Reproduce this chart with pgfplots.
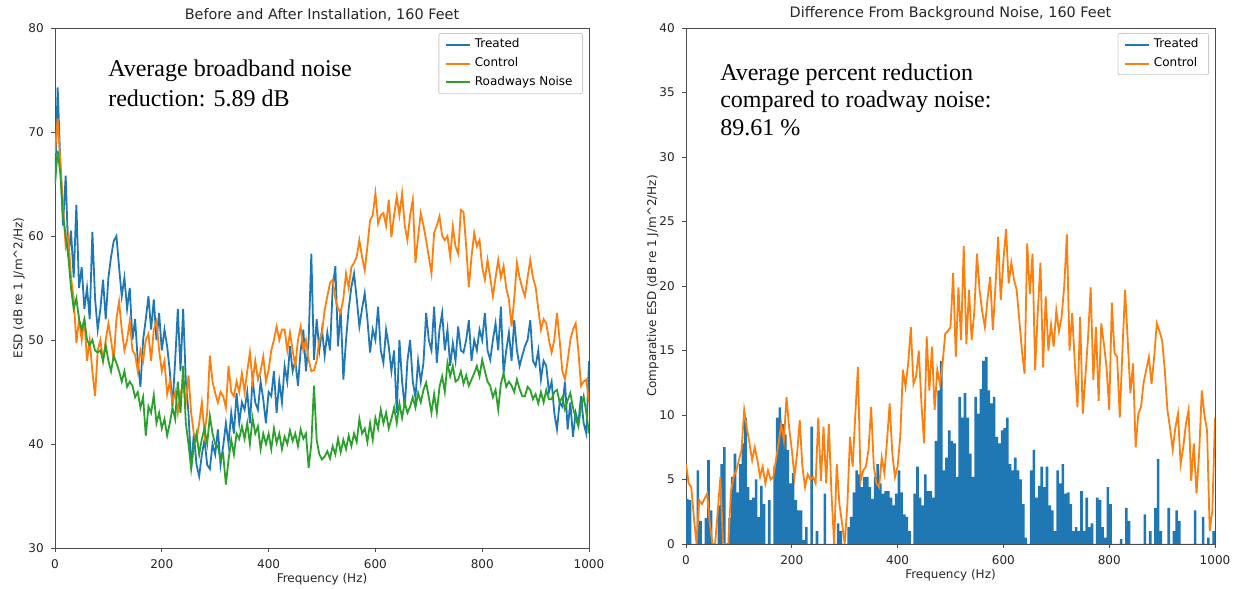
\documentclass[border=0pt]{standalone}
\usepackage{fontspec}
\setmainfont{DejaVu Sans}
\newfontfamily\timesfont{Liberation Serif}
\usepackage{pgfplots}
\pgfplotsset{compat=1.18}
\usepackage{pgfplotstable}

\definecolor{tblue}{HTML}{1F77B4}
\definecolor{torange}{HTML}{FF7F0E}
\definecolor{tgreen}{HTML}{2CA02C}

% spectra before/after, 5 Hz steps: treated, control, roadway
\pgfplotstableread{
f T C R
0 65 68 65
5 74.3 71.3 68.2
10 67 67 66
15 61 63 62
20 65.8 59 60
25 58 60 58
30 60.5 56 55
35 56 54 53
40 63 49.7 54
45 55 52 52
50 57 50 51
55 53 52 52
60 55 48 50
65 52 50 49.5
70 60.4 47 50
75 54 44.6 49
80 51 49 48.8
85 53 50 49
90 55.8 48 48
95 52 50 49.5
100 56 51.6 48
105 58 50 47
110 59.5 48 48.5
115 60 52 47.8
120 57 53.7 47
125 54.2 51 46
130 56 49 47
135 53 50 45.5
140 55 51.8 46
145 50 49 45.6
150 52 48.6 44.5
155 48 47 45
160 45.5 49 43.5
165 50 48 44.5
170 52 50 40.8
175 54.2 50.6 43.6
180 51 48 43
185 53.9 51 44.7
190 50 51.8 42
195 52.6 49 43
200 49 47 41.5
205 51 48 42.4
210 49.4 44.8 40.8
215 47 46 42
220 43.6 44 43.5
225 48 45 42.4
230 53 43 46
235 47 45 43
240 53 45.6 47.5
245 46 44 42
250 43 46.6 40
255 37.6 43 37.6
260 41 41 39.8
265 38 40.4 41
270 36.9 42 39
275 39 44 40.5
280 40.4 41 41.5
285 38 43 40
290 37.6 48.5 42.7
295 40 46 41
300 39 44.9 40
305 41.4 44 39.8
310 38 45 38.5
315 39.8 44.6 39
320 42 43.5 36.1
325 40 47.5 38.5
330 43 45 40.4
335 41 44.6 39
340 44.9 46 41
345 42 45 40.5
350 44 46.8 41.7
355 43.3 45 40.5
360 45 47 42
365 42 48.8 40
370 46.2 46 42.5
375 44 48 41
380 43.3 46.2 41.7
385 46 47 39.5
390 44.3 48.4 41
395 42 46 40
400 45 47.1 41
405 44.6 49 39.5
410 47 50 41.5
415 43 51.3 40.1
420 46 50 41
425 44 51 39.5
430 47.5 51 40.7
435 46 49 40
440 49.4 50.7 41.3
445 47 49 40.3
450 48 47.5 41
455 45.6 50 39.8
460 49 51.3 41.4
465 51 49 40.5
470 47 50 41
475 50 48.1 37.7
480 58.3 47 40
485 48.1 47.1 45.6
490 52 48 40.4
495 49 50 39
500 51 50.7 38.5
505 48.5 52.9 38.8
510 50.7 54.2 39.3
515 49 55.5 38.6
520 55 55.8 39.8
525 57.1 54 39
530 49.4 53 40.5
535 53 52.6 39.2
540 46.2 54 40.4
545 50 56.4 39.5
550 53 55 40.8
555 55.1 57 39.8
560 56.4 57.4 41
565 54 58 40.2
570 51.3 59.6 42.4
575 53 58 41
580 54.5 56.7 41.5
585 52 59 40.2
590 48.8 61.5 42
595 51 62 40.4
600 50 64.1 42.5
605 53.2 61.2 41.5
610 49 62 43.3
615 47.8 62.2 42
620 51 61 43
625 49.4 63.5 41.5
630 47 59.9 42.4
635 49 62 43.5
640 43 63.8 42
645 50 62 43.9
650 46 64.1 42.5
655 43.5 61 44
660 48 59.6 43
665 50 62 43.6
670 46 63.5 44.5
675 44.5 57.4 43.5
680 48 60 44.9
685 46 62.2 44
690 47.8 61 45.2
695 52.6 59.6 45.9
700 50 58 44.5
705 49 56.4 43
710 53.2 60.3 44.8
715 47.8 61 43
720 51 61.9 45.5
725 52.6 60 46.5
730 49 59.6 45
735 51 60 47.8
740 47.5 58 46.5
745 49.7 60.9 47.5
750 48 59 46
755 51.3 58.3 46.2
760 49 62.5 47
765 48.8 62.3 45.8
770 50 59 46.6
775 51.9 55.1 45.6
780 48 58 46.2
785 50 60.3 46.8
790 49 59 47.5
795 51 59.6 46.5
800 50 57 48.1
805 52.6 55.8 47
810 49 57.7 46
815 48.1 56 45.6
820 50 54.2 44.5
825 51.6 56 45.2
830 49 57.7 43.3
835 53.2 56 45.8
840 46.8 57.1 46.8
845 49 55 45.5
850 50.7 53.9 46
855 48 51.3 45.6
860 51.9 54 45
865 49 57.4 46.2
870 47.5 56 45.3
875 48.5 55 44.6
880 49.4 54.2 44.6
885 50 56 45.5
890 51.9 57.7 45.2
895 48 56 44.3
900 47.5 55.1 44.8
905 49 53 43.9
910 46.2 51 45
915 48 52 44
920 47.5 51.6 45.2
925 45 50 44.3
930 46 48.8 44.3
935 43 50 45
940 41.4 52.6 45.2
945 44 50 44
950 43.6 47 44.5
955 46 46.2 43.3
960 41.4 48 44.2
965 44 50 44.9
970 40.7 51 43.5
975 43 51.6 42.5
980 42 49 41.7
985 44.6 45.6 43.5
990 42 46 44.6
995 41 46.2 43
1000 48 44 41
}\spectra

% difference from background, 5 Hz steps: control line, treated bars
\pgfplotstableread{
f C T
0 6.2 3.5
5 4.7 3.4
10 4.4 0
15 2 0
20 0 5.7
25 3.4 1.8
30 3.1 0
35 3.5 2
40 3.9 6.5
45 1.6 2.6
50 0 0
55 0 0
60 2.5 3
65 5.2 6.2
70 0 7.5
75 0 0
80 0 2
85 4.1 5.2
90 5.2 7
95 5.7 4
100 6.5 6.2
105 7.3 7.8
110 10.4 9.8
115 9 4.4
120 7.8 3.4
125 6.5 3.6
130 7.5 5
135 6.5 2.1
140 5.2 4.5
145 6 3.1
150 4.7 0
155 5.7 3.4
160 5 0
165 5.2 6
170 6.5 9.8
175 7.8 10.6
180 9.3 9.3
185 8 8.5
190 11.4 7.3
195 9 4.7
200 7.3 5.5
205 5.2 3.4
210 7 2.6
215 9.6 2.6
220 6 0.3
225 4.4 1.3
230 5.4 0
235 5 9.1
240 5.2 0
245 4.7 1
250 9.8 0
255 4.9 0
260 9.1 3.9
265 4.7 0
270 9.3 0
275 3.9 0
280 0 0
285 6.2 1.6
290 3.1 1
295 1.6 0
300 0 0
305 3 1.3
310 8.3 2.1
315 6 4
320 10 5.7
325 13.7 5.4
330 4.9 4.4
335 5.7 5.2
340 6 5.2
345 7.3 4.4
350 10.6 3.5
355 6 5.2
360 4.7 6.2
365 4.4 4.7
370 6.7 3.9
375 5.5 4.1
380 8 4.1
385 10.9 3.6
390 7 3
395 5.2 3.9
400 6 5.7
405 8.3 4
410 13.5 2.3
415 12.2 2.1
420 14 1
425 16.8 0
430 12.4 3.9
435 13 6
440 15 3.6
445 10.9 3
450 7.8 5.4
455 16.1 4.1
460 11.9 4.1
465 15.3 3.6
470 10.4 8
475 13.5 11.9
480 12.4 14.2
485 14 5.7
490 16.3 6.7
495 16.5 8.8
500 16.8 8
505 21 7.8
510 14.5 5.2
515 19.9 11.4
520 15.8 9.8
525 23.1 11.7
530 15.5 9.8
535 19.7 7
540 15.8 5.2
545 18 11.4
550 22.5 10.1
555 19.7 12
560 18 14.2
565 16.8 14.5
570 19 11.9
575 20.7 10.9
580 16.6 11.4
585 20 8.3
590 23.8 7.8
595 18.9 8.8
600 22 9
605 24.4 9.8
610 20.2 6.2
615 21.8 5.7
620 20.5 6.7
625 19.7 5.7
630 17.4 5
635 15 3.1
640 13.2 0.5
645 23.3 0
650 19.4 5.7
655 22.5 7.3
660 13.5 3.6
665 18 4.5
670 21.8 6
675 13.7 4.4
680 19.2 6
685 15 3
690 17 2.6
695 15.3 1
700 18.1 5.7
705 16.5 4.7
710 17.6 6.2
715 20 3.9
720 24 4
725 15 3.1
730 17.9 1
735 14 1.3
740 10.6 1
745 17.6 4.1
750 10.1 1
755 13 3.6
760 16 1.3
765 19.9 1.6
770 12.7 0
775 16.8 3.6
780 11.1 3.4
785 17.1 1.3
790 15.5 0.5
795 13.7 4.4
800 10.4 3.1
805 18.7 0
810 14.8 0
815 14.5 0
820 9.8 0.4
825 15 0
830 19.7 2.8
835 15.8 1.8
840 11.7 0
845 14 0
850 7.5 0
855 10.1 0
860 10.6 0
865 12.5 2.3
870 13.5 0
875 14.5 1
880 12.4 0
885 14.5 2.8
890 17.1 6.6
895 16.5 1
900 15.8 0
905 13.5 0
910 10.4 2.8
915 9 0
920 7.3 1
925 9 2.6
930 10.1 1.8
935 6.2 0
940 7.5 0
945 9.3 0
950 10.4 0
955 4.9 0
960 7.8 2.6
965 3.9 0
970 7 0
975 11.9 2.1
980 10 0
985 8.8 0.5
990 1 0
995 2.6 1
1000 9.8 3.1
}\diffdata

\pgfplotsset{
  mpl/.style={
    scale only axis,
    xmin=0, xmax=1000, xtick={0,200,...,1000},
    axis line style={black!70, line width=0.45pt},
    tick pos=left, tick align=outside,
    major tick length=2.1pt,
    tick style={black!70, line width=0.45pt},
    ticklabel style={font=\fontsize{6}{7}\selectfont, text=black!85},
    label style={font=\fontsize{6}{7}\selectfont, text=black!85},
    xlabel style={yshift=4.5pt},
    title style={font=\fontsize{7.2}{8.6}\selectfont, text=black!85, yshift=-6pt},
    /pgf/number format/assume math mode=true,
    /pgf/number format/1000 sep={},
    legend cell align=left,
    legend style={font=\fontsize{6}{7}\selectfont, draw=black!20,
      rounded corners=1pt, at={(1,1)}, anchor=north east,
      xshift=-3pt, yshift=-2.5pt, row sep=0.2pt, inner xsep=3pt, inner ysep=1pt,
      nodes={inner ysep=1.6pt}},
    legend image code/.code={\draw[line width=1pt] (0pt,0pt) -- (12pt,0pt);},
    every axis plot/.append style={line width=0.9pt},
  },
}
\tikzset{note/.style={anchor=base west, inner sep=0pt, font=\timesfont\fontsize{12}{14}\selectfont}}

\begin{document}
\begin{tikzpicture}
\path[use as bounding box] (-27.5pt,-20.5pt) rectangle (591.5pt,274pt);

\begin{axis}[mpl, at={(0,0)}, anchor=south west,
  width=267pt, height=260pt,
  ymin=30, ymax=80, ytick={30,40,...,80},
  ylabel shift=-5pt,
  title={Before and After Installation, 160 Feet},
  xlabel={Frequency (Hz)},
  ylabel={ESD (dB re 1 J/m\textasciicircum 2/Hz)}]
\addplot[color=tblue] table[x=f, y=T] {\spectra};
\addlegendentry{Treated}
\addplot[color=torange] table[x=f, y=C] {\spectra};
\addlegendentry{Control}
\addplot[color=tgreen] table[x=f, y=R] {\spectra};
\addlegendentry{Roadways Noise}
\node[note] at (axis cs:99,75.3) {Average broadband noise};
\node[note] at (axis cs:99,72.5) {reduction: 5.89 dB};
\end{axis}

\begin{axis}[mpl, at={(315.5pt,2pt)}, anchor=south west,
  width=264.5pt, height=258pt,
  ymin=0, ymax=40, ytick={0,5,...,40},
  ylabel shift=-6.5pt,
  title={Difference From Background Noise, 160 Feet},
  xlabel={Frequency (Hz)},
  ylabel={Comparative ESD (dB re 1 J/m\textasciicircum 2/Hz)}]
\addplot[const plot, fill=tblue, draw=none, forget plot] table[x=f, y=T] {\diffdata} \closedcycle;
\addlegendimage{color=tblue}
\addlegendentry{Treated}
\addplot[color=torange] table[x=f, y=C] {\diffdata};
\addlegendentry{Control}
\node[note] at (axis cs:64,35.9) {Average percent reduction};
\node[note] at (axis cs:64,33.8) {compared to roadway noise:};
\node[note] at (axis cs:64,31.7) {89.61 \%};
\end{axis}
\end{tikzpicture}
\end{document}
